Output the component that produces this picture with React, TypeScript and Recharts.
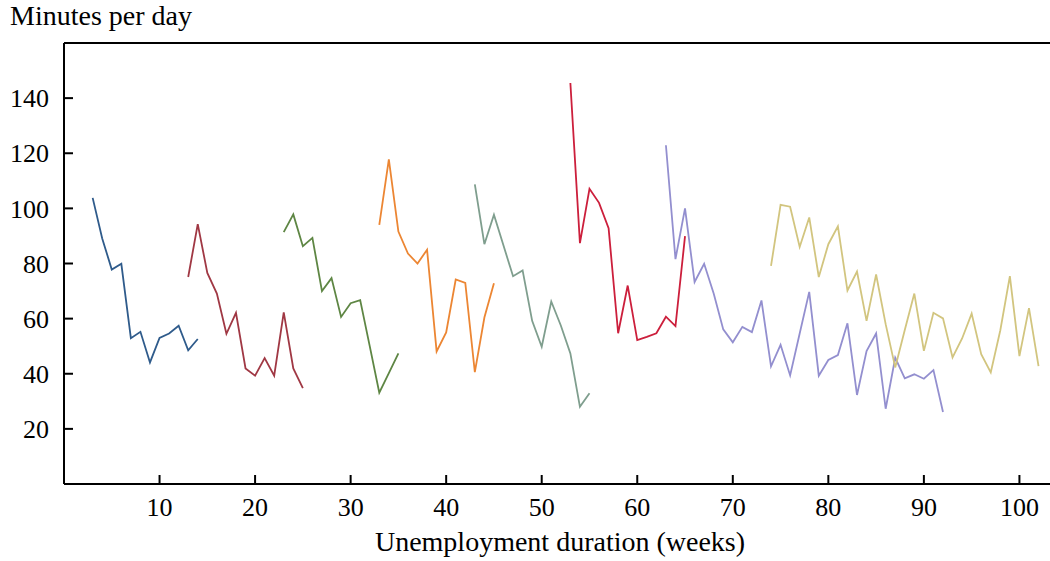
import React from 'react';
import { LineChart, Line, XAxis, YAxis, ReferenceLine } from 'recharts';

const xTicks = [10, 20, 30, 40, 50, 60, 70, 80, 90, 100];
const yTicks = [20, 40, 60, 80, 100, 120, 140];

const blueStart = 3;
const blueValues = [103.8, 89.1, 77.8, 79.9, 52.9, 55.2, 44.1, 53.0, 54.6, 57.4, 48.5, 52.6];
const redStart = 13;
const redValues = [75.1, 94.3, 76.6, 69.1, 54.5, 62.1, 41.9, 39.3, 45.7, 39.3, 62.3, 41.9, 34.8];
const greenStart = 23;
const greenValues = [91.4, 97.8, 86.3, 89.3, 70.0, 74.7, 60.6, 65.6, 66.7, 50.0, 33.1, 40.2, 47.4];
const orangeStart = 33;
const orangeValues = [94.0, 117.8, 91.6, 83.6, 80.0, 85.0, 48.1, 55.0, 74.2, 73.0, 40.6, 60.4, 72.8];
const sageStart = 43;
const sageValues = [108.7, 87.0, 97.7, 86.5, 75.4, 77.5, 59.2, 49.8, 66.2, 57.5, 47.4, 28.0, 32.9];
const crimsonStart = 53;
const crimsonValues = [145.5, 87.4, 107.1, 102.0, 92.8, 54.7, 72.0, 52.2, 53.4, 54.7, 60.7, 57.3, 89.9];
const purpleStart = 63;
const purpleValues = [
  122.9, 81.6, 100.0, 73.3, 79.9, 69.1, 56.1, 51.4, 57.0, 55.1, 66.6, 42.7, 50.5, 39.4, 54.6,
  69.7, 39.3, 45.0, 46.8, 58.3, 32.3, 48.2, 54.6, 27.3, 45.8, 38.3, 39.8, 38.2, 41.3, 26.1,
];
const khakiStart = 74;
const khakiValues = [
  79.1, 101.3, 100.6, 86.0, 96.7, 75.1, 87.0, 93.5, 70.2, 77.1, 59.2, 76.0, 58.0, 42.3, 55.9,
  69.1, 48.3, 62.1, 60.1, 45.9, 52.8, 61.8, 47.1, 40.5, 55.8, 75.4, 46.4, 63.8, 42.8,
];

const toPoints = (start: number, values: number[]) =>
  values.map((v, i) => ({ week: start + i, minutes: v }));

const series = [
  { name: 'blue', color: '#2f5b8b', data: toPoints(blueStart, blueValues) },
  { name: 'red', color: '#a03844', data: toPoints(redStart, redValues) },
  { name: 'green', color: '#5e8644', data: toPoints(greenStart, greenValues) },
  { name: 'orange', color: '#ec8633', data: toPoints(orangeStart, orangeValues) },
  { name: 'sage', color: '#7f9e8e', data: toPoints(sageStart, sageValues) },
  { name: 'crimson', color: '#cc1f3c', data: toPoints(crimsonStart, crimsonValues) },
  { name: 'purple', color: '#938fcf', data: toPoints(purpleStart, purpleValues) },
  { name: 'khaki', color: '#d2c57f', data: toPoints(khakiStart, khakiValues) },
];

const font = '"Liberation Serif", "Times New Roman", serif';

export default function App() {
  return (
    <div style={{ position: 'absolute', left: 0, top: 0, width: 1050, height: 561, overflow: 'hidden', background: '#fff' }}>
      <LineChart width={1050} height={561} margin={{ top: 43, right: 0, bottom: 0, left: 0 }}>
        <XAxis
          dataKey="week"
          type="number"
          domain={[0, 103.2]}
          ticks={xTicks}
          height={77}
          tickSize={-9}
          tickMargin={23}
          axisLine={{ stroke: '#000', strokeWidth: 2 }}
          tickLine={{ stroke: '#000', strokeWidth: 2 }}
          tick={{ fontFamily: font, fontSize: 26, fill: '#000' }}
          allowDuplicatedCategory={false}
        />
        <YAxis
          type="number"
          domain={[0, 160]}
          ticks={yTicks}
          width={64}
          tickSize={-9}
          tickMargin={24}
          axisLine={{ stroke: '#000', strokeWidth: 2 }}
          tickLine={{ stroke: '#000', strokeWidth: 2 }}
          tick={{ fontFamily: font, fontSize: 26, fill: '#000' }}
        />
        <ReferenceLine y={160} stroke="#000" strokeWidth={2} ifOverflow="visible" />
        {series.map((s) => (
          <Line
            key={s.name}
            data={s.data}
            dataKey="minutes"
            type="linear"
            stroke={s.color}
            strokeWidth={1.8}
            dot={false}
            activeDot={false}
            isAnimationActive={false}
          />
        ))}
      </LineChart>
      <svg width={1050} height={561} style={{ position: 'absolute', left: 0, top: 0, pointerEvents: 'none' }}>
        <text x={10} y={25} fontFamily={font} fontSize={28} fill="#000">
          Minutes per day
        </text>
        <text x={560} y={551} textAnchor="middle" fontFamily={font} fontSize={28} fill="#000">
          Unemployment duration (weeks)
        </text>
      </svg>
    </div>
  );
}
